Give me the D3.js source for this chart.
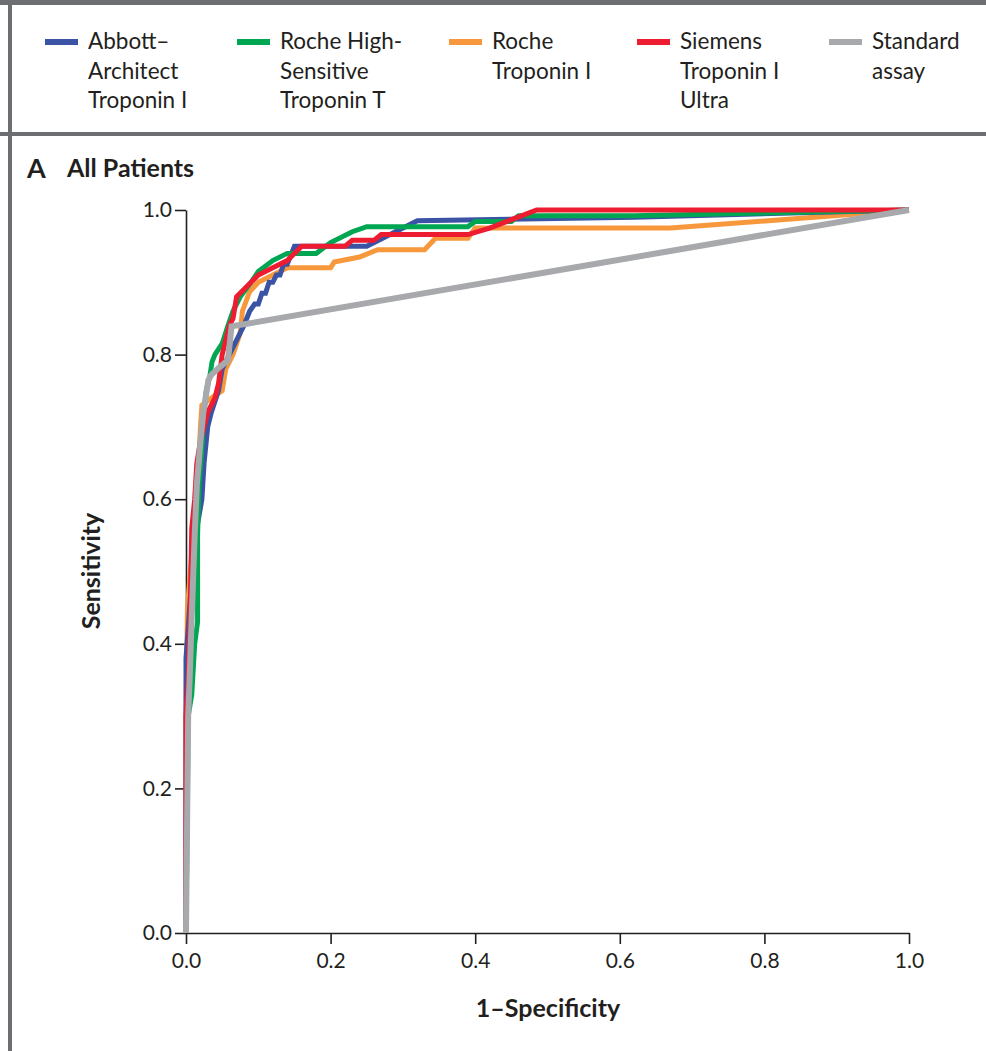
<!DOCTYPE html>
<html>
<head>
<meta charset="utf-8">
<script src="https://cdn.jsdelivr.net/npm/d3@7"></script>
<style>
  body { margin: 0; background: #fff; }
  text { font-family: Lato, "Open Sans", sans-serif; fill: #231f20; }
</style>
</head>
<body>
<div id="chart"></div>
<script>
var w = 986,
	h = 1051;

// series: [1-specificity, sensitivity]
var abbott = [[0,0],[0,0.38],[0.005,0.45],[0.01,0.52],[0.015,0.56],[0.022,0.6],[0.025,0.65],[0.03,0.7],[0.035,0.72],[0.045,0.75],[0.05,0.78],[0.06,0.8],[0.07,0.82],[0.08,0.84],[0.088,0.86],[0.095,0.87],[0.1,0.87],[0.105,0.885],[0.11,0.885],[0.115,0.9],[0.12,0.9],[0.125,0.91],[0.13,0.91],[0.135,0.925],[0.14,0.925],[0.15,0.95],[0.25,0.95],[0.32,0.985],[0.62,0.99],[1,1]];
var rocheT = [[0,0],[0.003,0.3],[0.008,0.33],[0.012,0.4],[0.016,0.43],[0.016,0.55],[0.018,0.62],[0.022,0.67],[0.025,0.72],[0.028,0.75],[0.033,0.77],[0.036,0.79],[0.04,0.8],[0.05,0.815],[0.058,0.84],[0.065,0.86],[0.075,0.88],[0.09,0.9],[0.1,0.915],[0.12,0.93],[0.14,0.94],[0.18,0.94],[0.2,0.955],[0.23,0.97],[0.25,0.977],[0.39,0.977],[0.4,0.984],[0.45,0.984],[0.46,0.992],[0.62,0.992],[1,1]];
var rocheI = [[0,0],[0,0.3],[0.002,0.45],[0.01,0.55],[0.015,0.6],[0.018,0.66],[0.02,0.7],[0.022,0.73],[0.035,0.74],[0.05,0.75],[0.055,0.78],[0.065,0.8],[0.075,0.83],[0.078,0.86],[0.088,0.887],[0.1,0.9],[0.12,0.91],[0.14,0.92],[0.2,0.92],[0.205,0.928],[0.24,0.935],[0.265,0.945],[0.33,0.945],[0.345,0.961],[0.39,0.961],[0.4,0.975],[0.67,0.975],[1,1]];
var siemens = [[0,0],[0,0.3],[0.003,0.35],[0.006,0.45],[0.008,0.56],[0.012,0.6],[0.015,0.65],[0.02,0.68],[0.025,0.7],[0.03,0.72],[0.04,0.74],[0.045,0.76],[0.05,0.8],[0.055,0.82],[0.06,0.84],[0.065,0.85],[0.07,0.88],[0.08,0.89],[0.09,0.9],[0.1,0.91],[0.12,0.92],[0.14,0.93],[0.16,0.95],[0.22,0.95],[0.23,0.958],[0.26,0.958],[0.27,0.966],[0.39,0.966],[0.42,0.975],[0.485,1],[1,1]];
var standard = [[0,0],[0.003,0.3],[0.005,0.35],[0.008,0.44],[0.012,0.55],[0.015,0.62],[0.02,0.68],[0.024,0.72],[0.031,0.765],[0.035,0.772],[0.047,0.783],[0.058,0.792],[0.063,0.839],[1,1]];

var seriesNames = [['Abbott\u2013', 'Architect', 'Troponin I'], ['Roche High-', 'Sensitive', 'Troponin T'], ['Roche', 'Troponin I'], ['Siemens', 'Troponin I', 'Ultra'], ['Standard', 'assay']];
var seriesColors = ['#3a53a4', '#00a651', '#f8983d', '#ed1c31', '#a7a9ac'];
var seriesData = [abbott, rocheT, rocheI, siemens, standard];
var drawOrder = [2, 0, 1, 3, 4];
var ticks = [0, 0.2, 0.4, 0.6, 0.8, 1.0];

var svg = d3.select('#chart').append('svg')
	.attr('width', w)
	.attr('height', h);

// frame
svg.append('rect').attr('x', 0).attr('y', 0).attr('width', w).attr('height', 5).style('fill', '#6d6e71');
svg.append('rect').attr('x', 0).attr('y', 132).attr('width', w).attr('height', 4).style('fill', '#6d6e71');
svg.append('rect').attr('x', 8).attr('y', 0).attr('width', 4).attr('height', h).style('fill', '#6d6e71');

// legend
var lx = [45, 237, 449, 637, 829];
var leg = svg.selectAll('g.leg')
	.data(seriesNames)
	.enter().append('g')
	.attr('class', 'leg')
	.attr('transform', function(d, i) { return 'translate(' + lx[i] + ',0)' });
leg.append('line')
	.attr('x1', 0).attr('x2', 33).attr('y1', 42).attr('y2', 42)
	.style('stroke', function(d, i) { return seriesColors[i] })
	.style('stroke-width', 6);
leg.selectAll('text')
	.data(function(d) { return d })
	.enter().append('text')
	.attr('x', 43)
	.attr('y', function(d, j) { return 49 + j * 29.5 })
	.style('font-size', '22.5px')
	.text(function(d) { return d });

// title
svg.append('text').attr('x', 27).attr('y', 178).style('font-size', '27px').style('font-weight', 'bold').text('A');
svg.append('text').attr('x', 67).attr('y', 177).style('font-size', '25px').style('font-weight', 'bold').text('All Patients');

// plot
var x = d3.scaleLinear().domain([0, 1]).range([186, 909]);
var y = d3.scaleLinear().domain([0, 1]).range([933, 210]);

svg.append('g')
	.attr('transform', 'translate(0,933)')
	.call(d3.axisBottom(x).tickValues(ticks).tickFormat(d3.format('.1f')).tickSize(11).tickSizeOuter(0).tickPadding(9));
svg.append('g')
	.attr('transform', 'translate(186,0)')
	.call(d3.axisLeft(y).tickValues(ticks).tickFormat(d3.format('.1f')).tickSize(11).tickSizeOuter(0).tickPadding(3));
svg.selectAll('.domain, .tick line').style('stroke', '#231f20').style('stroke-width', 1.6);
svg.selectAll('.tick text').style('font-size', '21px').style('font-family', 'Lato, sans-serif').style('fill', '#231f20');

var line = d3.line()
	.x(function(d) { return x(d[0]) })
	.y(function(d) { return y(d[1]) });

svg.selectAll('path.roc')
	.data(drawOrder)
	.enter().append('path')
	.attr('class', 'roc')
	.attr('d', function(i) { return line(seriesData[i]) })
	.style('fill', 'none')
	.style('stroke', function(i) { return seriesColors[i] })
	.style('stroke-width', function(i) { return i == 4 ? 6 : 5 })
	.style('stroke-linejoin', 'miter');

// axis titles
svg.append('text')
	.attr('transform', 'translate(100,571) rotate(-90)')
	.attr('text-anchor', 'middle')
	.style('font-size', '25px').style('font-weight', 'bold')
	.text('Sensitivity');
svg.append('text')
	.attr('x', 548).attr('y', 1017)
	.attr('text-anchor', 'middle')
	.style('font-size', '25px').style('font-weight', 'bold')
	.text('1\u2013Specificity');
</script>
</body>
</html>
